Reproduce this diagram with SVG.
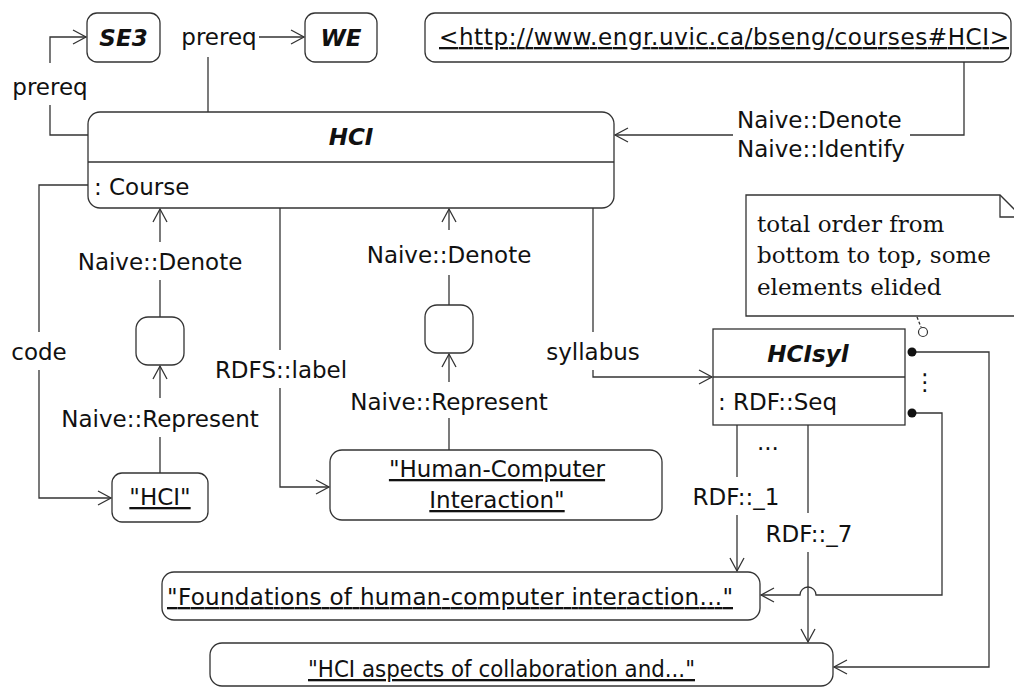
<svg xmlns="http://www.w3.org/2000/svg" width="1014" height="688" viewBox="0 0 1014 688">
<defs>
<style>
.n{fill:#fff;stroke:#333;stroke-width:1.3}
.c{fill:none;stroke:#333;stroke-width:1.3}
text{font-family:"DejaVu Sans",sans-serif;font-size:23px;fill:#111}
.b{font-weight:bold;font-style:italic}
.u{text-decoration:underline}
.m{text-anchor:middle}
.s{font-family:"DejaVu Serif",serif}
</style>
<marker id="a" markerWidth="16" markerHeight="16" refX="14" refY="8" orient="auto" markerUnits="userSpaceOnUse">
<path d="M1,1 L14,8 L1,15" fill="none" stroke="#333" stroke-width="1.3"/>
</marker>
</defs>
<rect width="1014" height="688" fill="#fff"/>

<g id="connectors">
<path class="c" d="M88,135 H50 V105"/>
<path class="c" d="M50,63 V37 H86" marker-end="url(#a)"/>
<text class="m" x="50" y="95">prereq</text>
<path class="c" d="M208,112 V57"/>
<path class="c" d="M259,37 H304" marker-end="url(#a)"/>
<text class="m" x="219" y="45">prereq</text>
<path class="c" d="M964,62 V135 H910"/>
<path class="c" d="M733,135 H615" marker-end="url(#a)"/>
<text x="737" y="128">Naive::Denote</text>
<text x="737" y="157">Naive::Identify</text>
<path class="c" d="M88,185 H39 V332"/>
<path class="c" d="M39,370 V498 H111" marker-end="url(#a)"/>
<text class="m" x="39" y="360">code</text>
<path class="c" d="M160,317 V280"/>
<path class="c" d="M160,242 V209" marker-end="url(#a)"/>
<text class="m" x="160" y="270">Naive::Denote</text>
<path class="c" d="M160,473 V437"/>
<path class="c" d="M160,398 V366" marker-end="url(#a)"/>
<text class="m" x="160" y="427">Naive::Represent</text>
<path class="c" d="M280,208 V350"/>
<path class="c" d="M280,388 V487 H329" marker-end="url(#a)"/>
<text class="m" x="281" y="378">RDFS::label</text>
<path class="c" d="M449,305 V275"/>
<path class="c" d="M449,230 V209" marker-end="url(#a)"/>
<text class="m" x="449" y="263">Naive::Denote</text>
<path class="c" d="M449,450 V418"/>
<path class="c" d="M449,382 V354" marker-end="url(#a)"/>
<text class="m" x="449" y="410">Naive::Represent</text>
<path class="c" d="M593,208 V332"/>
<path class="c" d="M593,370 V377 H712" marker-end="url(#a)"/>
<text class="m" x="593" y="360">syllabus</text>
<path class="c" d="M737,425 V477"/>
<path class="c" d="M737,515 V571" marker-end="url(#a)"/>
<text x="757" y="450">...</text>
<text class="m" x="736" y="505">RDF::_1</text>
<path class="c" d="M808,425 V513"/>
<path class="c" d="M808,552 V642" marker-end="url(#a)"/>
<text class="m" x="809" y="542">RDF::_7</text>
<path class="c" d="M912,352 H989 V667 H834" marker-end="url(#a)"/>
<path class="c" d="M912,413 H942 V595 H816 A8,8 0 0 0 800,595 H761" marker-end="url(#a)"/>
<circle cx="912" cy="352" r="4.5" fill="#111"/>
<circle cx="912" cy="413" r="4.5" fill="#111"/>
<text class="m" x="925" y="390">⋮</text>
<path class="c" d="M917,317 L921,327" stroke-dasharray="3,2"/>
<circle cx="923" cy="332" r="4.5" fill="#fff" stroke="#333" stroke-width="1.2"/>
</g>

<g id="SE3">
<rect class="n" x="87" y="13" width="73" height="49" rx="10"/>
<text class="b m" x="123.5" y="46">SE3</text>
</g>
<g id="WE">
<rect class="n" x="305" y="13" width="72" height="49" rx="10"/>
<text class="b m" x="341" y="46">WE</text>
</g>
<g id="URL">
<rect class="n" x="425" y="13" width="586" height="49" rx="10"/>
<text class="u" x="439" y="45" textLength="570" lengthAdjust="spacing">&lt;http://www.engr.uvic.ca/bseng/courses#HCI&gt;</text>
</g>
<g id="HCI">
<rect class="n" x="88" y="112" width="526" height="96" rx="12"/>
<line class="c" x1="88" y1="162" x2="614" y2="162"/>
<text class="b m" x="351" y="145">HCI</text>
<text x="94" y="195">: Course</text>
</g>
<g id="blank1">
<rect class="n" x="136" y="317" width="48" height="48" rx="12"/>
</g>
<g id="blank2">
<rect class="n" x="425" y="305" width="48" height="48" rx="12"/>
</g>
<g id="literalHCI">
<rect class="n" x="112" y="473" width="96" height="49" rx="10"/>
<text class="u m" x="160" y="505">"HCI"</text>
</g>
<g id="HCIlabel">
<rect class="n" x="330" y="450" width="332" height="70" rx="12"/>
<text class="u m" x="497" y="477">"Human-Computer</text>
<text class="u m" x="497" y="508">Interaction"</text>
</g>
<g id="note">
<path class="n" d="M746,195 H1000 L1022,217 V316 H746 Z"/>
<path class="c" d="M1000,195 V217 H1022"/>
<text class="s" x="757" y="232">total order from</text>
<text class="s" x="757" y="263">bottom to top, some</text>
<text class="s" x="757" y="295">elements elided</text>
</g>
<g id="HCIsyl">
<rect class="n" x="713" y="329" width="192" height="96"/>
<line class="c" x1="713" y1="377" x2="905" y2="377"/>
<text class="b m" x="808" y="362">HCIsyl</text>
<text x="718" y="410">: RDF::Seq</text>
</g>
<g id="foundations">
<rect class="n" x="162" y="572" width="598" height="48" rx="12"/>
<text class="u" x="167" y="605" textLength="566" lengthAdjust="spacing">"Foundations of human-computer interaction..."</text>
</g>
<g id="aspects">
<rect class="n" x="210" y="643" width="623" height="43" rx="12"/>
<text class="u" x="308" y="677" textLength="387" lengthAdjust="spacingAndGlyphs">"HCI aspects of collaboration and..."</text>
</g>
</svg>
